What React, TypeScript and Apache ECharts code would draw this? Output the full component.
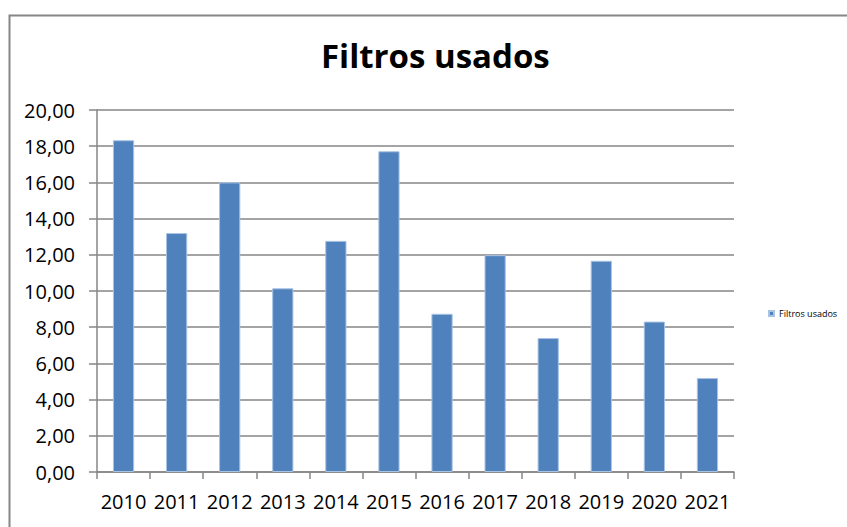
import React, { useEffect, useRef } from "react";
import * as echarts from "echarts";

const title = "Filtros usados";
const seriesName = "Filtros usados";
const years = ["2010", "2011", "2012", "2013", "2014", "2015", "2016", "2017", "2018", "2019", "2020", "2021"];
const values = [18.33, 13.2, 16.0, 10.15, 12.77, 17.72, 8.74, 11.98, 7.4, 11.67, 8.31, 5.19];

export default function App() {
  const ref = useRef<HTMLDivElement>(null);
  useEffect(() => {
    if (!ref.current) return;
    const chart = echarts.init(ref.current, null, { renderer: "svg" });
    const gray = "#868686";
    const font = "'Open Sans', sans-serif";
    chart.setOption({
      animation: false,
      backgroundColor: "#ffffff",
      title: {
        text: title,
        left: 316,
        top: 34,
        textStyle: { fontFamily: font, fontWeight: "bold", fontSize: 33, color: "#000" },
      },
      legend: {
        orient: "vertical",
        left: 763,
        top: 304,
        itemWidth: 5,
        itemHeight: 5,
        itemGap: 3,
        icon: "rect",
        textStyle: { fontFamily: font, fontSize: 9, color: "#000" },
        data: [seriesName],
      },
      grid: { left: 97, right: 113, top: 110, bottom: 55 },
      xAxis: {
        type: "category",
        data: years,
        boundaryGap: true,
        axisLine: { lineStyle: { color: gray, width: 1.5 } },
        axisTick: { show: true, length: 7, lineStyle: { color: gray, width: 1.5 } },
        axisLabel: { interval: 0, hideOverlap: false, fontFamily: font, fontSize: 20, color: "#000", margin: 19 },
      },
      yAxis: {
        type: "value",
        min: 0,
        max: 20,
        interval: 2,
        axisLine: { show: true, lineStyle: { color: gray, width: 1.5 } },
        axisTick: { show: true, length: 8, lineStyle: { color: gray, width: 1.5 } },
        splitLine: { show: true, lineStyle: { color: gray, width: 1.5 } },
        axisLabel: {
          fontFamily: font,
          fontSize: 20,
          color: "#000",
          margin: 22,
          formatter: (v: number) => v.toFixed(2).replace(".", ","),
        },
      },
      series: [
        {
          name: seriesName,
          type: "bar",
          data: values,
          barWidth: "40%",
          itemStyle: { color: "#4F81BD", borderColor: "#a9c3e3", borderWidth: 1 },
        },
      ],
      graphic: [
        {
          type: "rect",
          left: 7,
          top: 13,
          shape: { x: 0, y: 0, width: 860, height: 540 },
          style: { fill: "none", stroke: gray, lineWidth: 2 },
          silent: true,
        },
      ],
    });
    return () => chart.dispose();
  }, []);
  return (
    <div
      ref={ref}
      style={{ position: "fixed", left: 0, top: 0, width: 847, height: 527 }}
    />
  );
}
